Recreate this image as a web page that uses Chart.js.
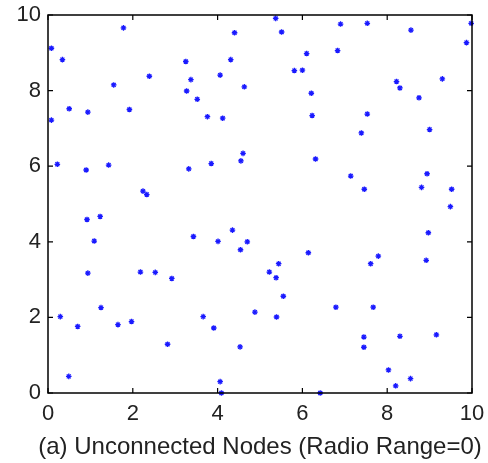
<!DOCTYPE html>
<html>
<head>
<meta charset="utf-8">
<script src="https://cdn.jsdelivr.net/npm/chart.js@4.4.1/dist/chart.umd.min.js"></script>
<style>
  html, body { margin: 0; padding: 0; background: #fff; }
  #wrap { width: 488px; height: 463px; }
</style>
</head>
<body>
<div id="wrap"><canvas id="c" width="488" height="463"></canvas></div>
<script>
// Node positions (x, y in the 10 x 10 field)
const nodeX = [
  0.08, 0.34, 1.78, 1.55, 2.39, 0.50, 0.94, 0.08, 1.92, 0.22,
  0.90, 1.43, 2.24, 2.33, 3.25, 3.37, 3.27, 3.52, 3.76, 4.12,
  4.06, 4.31, 4.40, 4.63, 3.32, 3.85, 4.55, 4.60,
  5.37, 5.51, 6.90, 7.53, 8.56, 9.98, 9.87, 6.10, 6.83, 5.81,
  6.00, 8.22, 8.30, 9.30, 8.75, 6.21, 6.23, 7.53, 7.39, 9.00,
  6.31, 7.14, 7.46, 8.94, 8.81, 9.52, 9.49,
  0.92, 1.23, 1.09, 0.94, 1.25, 0.29, 0.70, 0.49, 1.65, 1.97,
  2.18, 2.53, 2.92, 2.82, 3.43, 4.01, 4.35, 4.54, 4.70, 3.66,
  3.91, 4.53, 4.88, 4.06, 4.09,
  6.14, 5.44, 5.22, 5.38, 5.55, 5.39, 6.79, 7.67, 7.61, 7.79,
  8.92, 8.97, 7.45, 7.45, 8.30, 9.16, 8.03, 8.20, 8.55, 6.42
];
const nodeY = [
  9.12, 8.82, 9.66, 8.15, 8.38, 7.52, 7.43, 7.22, 7.50, 6.05,
  5.90, 6.03, 5.34, 5.25, 8.77, 8.29, 7.99, 7.77, 7.31, 7.27,
  8.41, 8.82, 9.53, 8.10, 5.93, 6.07, 6.14, 6.34,
  9.91, 9.55, 9.76, 9.78, 9.60, 9.78, 9.27, 8.98, 9.06, 8.53,
  8.54, 8.24, 8.07, 8.31, 7.81, 7.93, 7.34, 7.38, 6.88, 6.97,
  6.19, 5.74, 5.39, 5.80, 5.44, 5.39, 4.93,
  4.59, 4.67, 4.02, 3.17, 2.26, 2.02, 1.76, 0.44, 1.81, 1.89,
  3.20, 3.19, 3.03, 1.29, 4.14, 4.01, 4.31, 3.79, 4.00, 2.02,
  1.72, 1.22, 2.14, 0.30, 0.00,
  3.71, 3.42, 3.20, 3.05, 2.56, 2.01, 2.27, 2.27, 3.42, 3.62,
  3.51, 4.24, 1.48, 1.21, 1.50, 1.54, 0.61, 0.19, 0.38, 0.00
];
const tickValues = [0, 2, 4, 6, 8, 10];
const captionText = '(a) Unconnected Nodes (Radio Range=0)';

(function () {
  'use strict';

  const INK = '#222222';
  const FONT = "'Liberation Sans', Arial, sans-serif";

  // Box round the plot with short inward ticks on all four sides,
  // plus the figure caption centred under the plot (wider than the axes)
  const boxTicks = {
    id: 'boxTicks',
    afterDraw(chart) {
      const { ctx, chartArea: a, scales } = chart;
      const len = 5;
      ctx.save();
      ctx.strokeStyle = '#000';
      ctx.lineWidth = 1.5;
      ctx.strokeRect(a.left, a.top, a.right - a.left, a.bottom - a.top);
      ctx.lineWidth = 1.2;
      ctx.beginPath();
      tickValues.forEach(v => {
        const px = scales.x.getPixelForValue(v);
        ctx.moveTo(px, a.bottom); ctx.lineTo(px, a.bottom - len);
        ctx.moveTo(px, a.top);    ctx.lineTo(px, a.top + len);
        const py = scales.y.getPixelForValue(v);
        ctx.moveTo(a.left, py);  ctx.lineTo(a.left + len, py);
        ctx.moveTo(a.right, py); ctx.lineTo(a.right - len, py);
      });
      ctx.stroke();

      ctx.fillStyle = INK;
      ctx.font = '24px ' + FONT;
      ctx.textAlign = 'center';
      ctx.textBaseline = 'middle';
      ctx.fillText(captionText, (a.left + a.right) / 2, a.bottom + 54);
      ctx.restore();
    },
  };

  const points = nodeX.map((x, i) => ({ x: x, y: nodeY[i] }));

  new Chart(document.getElementById('c'), {
    type: 'scatter',
    data: {
      datasets: [{
        data: points,
        pointStyle: 'star',
        radius: 2.8,
        borderWidth: 1.3,
        borderColor: '#1a1aff',
        backgroundColor: '#1a1aff',
        clip: false,
      }],
    },
    options: {
      responsive: false,
      animation: false,
      layout: { padding: { top: 15, right: 16, left: 0, bottom: 0 } },
      plugins: { legend: { display: false }, tooltip: { enabled: false } },
      scales: {
        x: {
          type: 'linear', min: 0, max: 10,
          afterBuildTicks: s => { s.ticks = tickValues.map(v => ({ value: v })); },
          grid: { display: false, drawTicks: false },
          border: { display: false },
          ticks: { color: INK, padding: 8, font: { family: FONT, size: 22 } },
          afterFit: s => {
            s.height = 70;
            s.paddingLeft = 0; s.paddingRight = 0;
          },
        },
        y: {
          type: 'linear', min: 0, max: 10,
          afterBuildTicks: s => { s.ticks = tickValues.map(v => ({ value: v })); },
          grid: { display: false, drawTicks: false },
          border: { display: false },
          ticks: { color: INK, padding: 7, font: { family: FONT, size: 22 } },
          afterFit: s => {
            s.width = 48;
            s.paddingTop = 0; s.paddingBottom = 0;
          },
        },
      },
    },
    plugins: [boxTicks],
  });
})();
</script>
</body>
</html>
